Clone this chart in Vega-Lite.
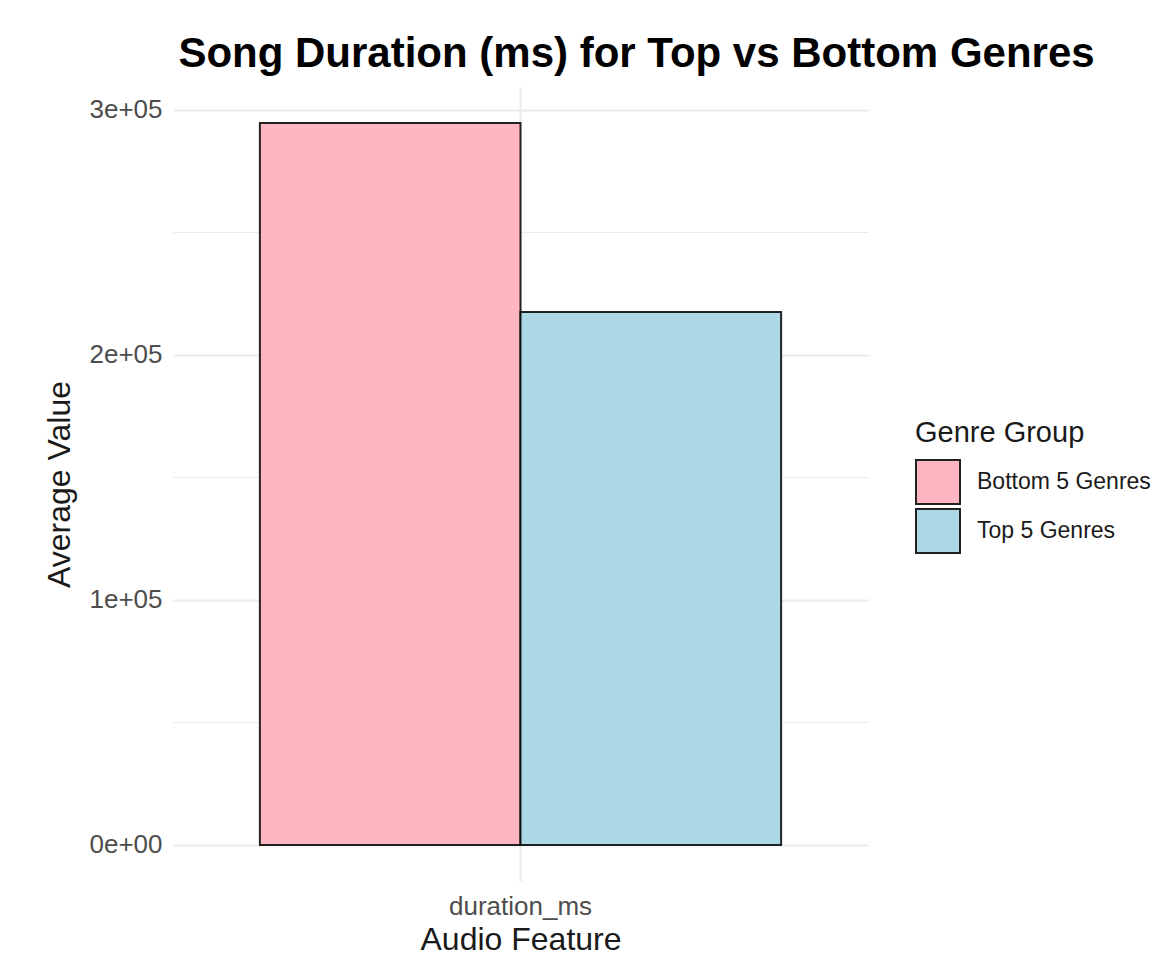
{
  "$schema": "https://vega.github.io/schema/vega-lite/v6.json",
  "autosize": {"type": "none"},
  "width": 695,
  "height": 794,
  "padding": {"left": 173, "top": 87, "right": 305, "bottom": 96},
  "background": "white",
  "title": {
    "text": "Song Duration (ms) for Top vs Bottom Genres",
    "anchor": "middle",
    "frame": "group",
    "dx": 116,
    "baseline": "alphabetic",
    "offset": -22,
    "font": "Liberation Sans",
    "fontSize": 42,
    "fontWeight": "bold",
    "color": "#000000"
  },
  "data": {
    "values": [
      {"feature": "duration_ms", "group": "Bottom 5 Genres", "value": 294500},
      {"feature": "duration_ms", "group": "Top 5 Genres", "value": 217400}
    ]
  },
  "mark": {"type": "bar", "stroke": "#000000", "strokeWidth": 2, "strokeOpacity": 0.85},
  "encoding": {
    "x": {
      "field": "feature",
      "type": "nominal",
      "scale": {"paddingInner": 0.1, "paddingOuter": 0.15},
      "axis": {
        "title": "Audio Feature",
        "labelAngle": 0,
        "grid": true,
        "bandPosition": 0.5,
        "gridColor": "#EBEBEB",
        "gridWidth": 2,
        "domain": false,
        "ticks": false,
        "labelPadding": 12,
        "titlePadding": 5
      }
    },
    "xOffset": {
      "field": "group",
      "type": "nominal",
      "scale": {"paddingInner": 0, "paddingOuter": 0}
    },
    "y": {
      "field": "value",
      "type": "quantitative",
      "scale": {"domain": [-14725, 309225], "nice": false, "zero": false},
      "axis": {
        "title": "Average Value",
        "values": [0, 50000, 100000, 150000, 200000, 250000, 300000],
        "labelExpr": "datum.value % 100000 === 0 ? (datum.value === 0 ? '0e+00' : (datum.value / 100000) + 'e+05') : ''",
        "gridColor": "#EBEBEB",
        "gridWidth": {"condition": {"test": "datum.value % 100000 === 0", "value": 2}, "value": 1.2},
        "domain": false,
        "ticks": false,
        "labelPadding": 11,
        "titlePadding": 12
      }
    },
    "y2": {"datum": 0},
    "fill": {
      "field": "group",
      "type": "nominal",
      "scale": {
        "domain": ["Bottom 5 Genres", "Top 5 Genres"],
        "range": ["#FFB6C1", "#ADD8E6"]
      },
      "legend": {
        "title": "Genre Group",
        "orient": "none",
        "legendX": 742,
        "legendY": 332,
        "symbolType": "square",
        "symbolSize": 1936,
        "symbolStrokeColor": "#222222",
        "symbolStrokeWidth": 2,
        "symbolOpacity": 1,
        "rowPadding": -8,
        "labelOffset": 16,
        "labelLimit": 400,
        "titlePadding": 11
      }
    }
  },
  "config": {
    "font": "Liberation Sans",
    "view": {"stroke": null},
    "axis": {
      "labelFont": "Liberation Sans",
      "labelFontSize": 26,
      "labelColor": "#4D4D4D",
      "titleFont": "Liberation Sans",
      "titleFontSize": 32,
      "titleFontWeight": "normal",
      "titleColor": "#1A1A1A"
    },
    "legend": {
      "labelFont": "Liberation Sans",
      "labelFontSize": 23,
      "labelColor": "#1A1A1A",
      "titleFont": "Liberation Sans",
      "titleFontSize": 29,
      "titleFontWeight": "normal",
      "titleColor": "#1A1A1A"
    }
  }
}
